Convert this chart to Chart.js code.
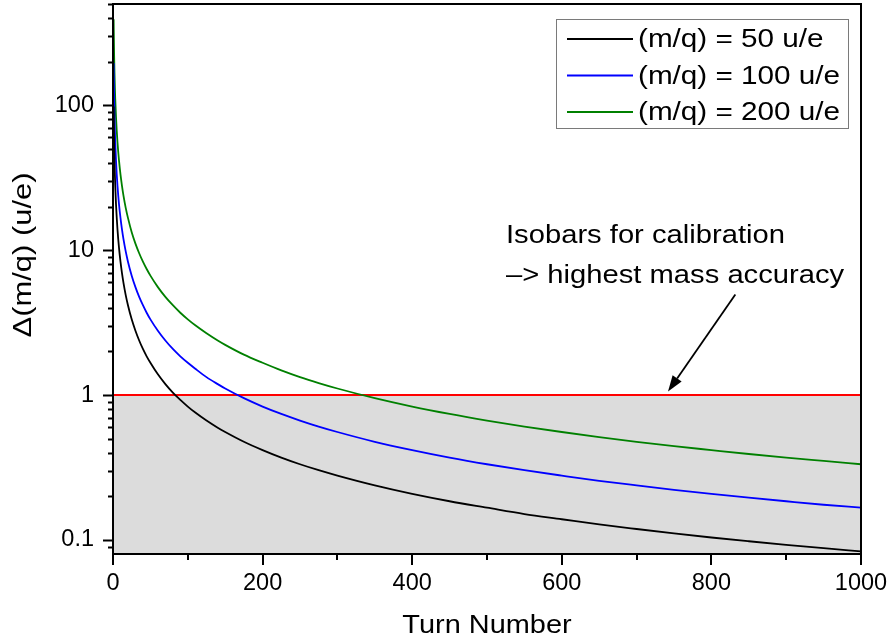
<!DOCTYPE html>
<html>
<head>
<meta charset="utf-8">
<title>Mass resolution vs. turn number</title>
<script src="https://cdn.jsdelivr.net/npm/chart.js@4.4.1/dist/chart.umd.min.js"></script>
<style>
  html, body { margin: 0; padding: 0; background: #ffffff; }
  #wrap { width: 891px; height: 643px; }
</style>
</head>
<body>
<div id="wrap"><canvas id="chart" width="891" height="643"></canvas></div>
<script>
// Turn numbers at which the resolution curves are sampled
const turnNumbers = [0.85, 1, 1.5, 2, 2.5, 3, 4, 5, 6, 7, 8, 10, 12, 14, 17, 20, 25, 30, 35, 40, 45, 50, 60, 70, 80, 90, 100, 110, 125, 140, 150, 175, 200, 225, 250, 275, 300, 350, 400, 450, 500, 550, 600, 650, 700, 750, 800, 850, 900, 950, 1000];
// Δ(m/q) in u/e for each mass-to-charge ratio
const dm50 = [98.0, 83.3, 55.5, 41.7, 33.3, 27.8, 20.8, 16.7, 13.9, 11.9, 10.4, 8.33, 6.94, 5.95, 4.90, 4.17, 3.33, 2.78, 2.38, 2.08, 1.85, 1.67, 1.39, 1.19, 1.04, 0.926, 0.833, 0.757, 0.667, 0.595, 0.556, 0.476, 0.417, 0.370, 0.333, 0.303, 0.278, 0.238, 0.208, 0.185, 0.167, 0.151, 0.139, 0.128, 0.119, 0.111, 0.104, 0.098, 0.0926, 0.0877, 0.0835];
const dm100 = [196, 167, 111, 83.3, 66.7, 55.6, 41.7, 33.3, 27.8, 23.8, 20.8, 16.7, 13.9, 11.9, 9.80, 8.33, 6.67, 5.56, 4.76, 4.17, 3.70, 3.33, 2.78, 2.38, 2.08, 1.85, 1.67, 1.52, 1.33, 1.19, 1.11, 0.952, 0.833, 0.741, 0.667, 0.606, 0.556, 0.476, 0.417, 0.370, 0.333, 0.303, 0.278, 0.256, 0.238, 0.222, 0.208, 0.196, 0.185, 0.175, 0.167];
const dm200 = [392, 333, 222, 167, 133, 111, 83.3, 66.7, 55.6, 47.6, 41.7, 33.3, 27.8, 23.8, 19.6, 16.7, 13.3, 11.1, 9.52, 8.33, 7.41, 6.67, 5.56, 4.76, 4.17, 3.70, 3.33, 3.03, 2.67, 2.38, 2.22, 1.90, 1.67, 1.48, 1.33, 1.21, 1.11, 0.952, 0.833, 0.741, 0.667, 0.606, 0.556, 0.513, 0.476, 0.444, 0.417, 0.392, 0.370, 0.351, 0.333];

const seriesLabels = ['(m/q) = 50 u/e', '(m/q) = 100 u/e', '(m/q) = 200 u/e'];
const seriesColors = ['#000000', '#0000ff', '#008000'];

// Isobar calibration threshold
const isobarLevel = [1, 1];
const isobarTurns = [0, 1000];

// Axis ticks
const xTickValues = [0, 100, 200, 300, 400, 500, 600, 700, 800, 900, 1000];
const xLabelledTicks = [0, 200, 400, 600, 800, 1000];
const yTickValues = [0.09, 0.1, 0.2, 0.3, 0.4, 0.5, 0.6, 0.7, 0.8, 0.9, 1, 2, 3, 4, 5, 6, 7, 8, 9, 10, 20, 30, 40, 50, 60, 70, 80, 90, 100, 200, 300, 400, 500];
const yLabelledTicks = [0.1, 1, 10, 100];

const xTitle = 'Turn Number';
const yTitle = 'Δ(m/q) (u/e)';
const noteLines = ['Isobars for calibration', '–> highest mass accuracy'];

const FONT = '"Liberation Sans", Arial, Helvetica, sans-serif';
Chart.defaults.font.family = FONT;
Chart.defaults.color = '#000000';

function pts(xs, ys) { return xs.map((x, i) => ({ x: x, y: ys[i] })); }

function drawText(ctx, text, x, y, size, stretch, align, angle) {
  ctx.save();
  ctx.font = size + 'px ' + FONT;
  ctx.fillStyle = '#000000';
  ctx.translate(x, y);
  if (angle) ctx.rotate(angle);
  ctx.scale(stretch, 1);
  ctx.textAlign = align;
  ctx.textBaseline = 'alphabetic';
  ctx.fillText(text, 0, 0);
  ctx.restore();
}

// Frame, tick marks, titles, legend box and the note with its arrow
const decorations = {
  id: 'decorations',
  afterDraw(chart) {
    const ctx = chart.ctx;
    const a = chart.chartArea;
    const xs = chart.scales.x, ys = chart.scales.y;

    ctx.save();
    ctx.strokeStyle = '#000000';
    ctx.lineWidth = 2;
    ctx.lineCap = 'butt';

    // tick marks on the left axis
    ctx.beginPath();
    yTickValues.forEach(v => {
      const py = Math.round(ys.getPixelForValue(v)) + 0.5;
      const len = yLabelledTicks.includes(v) ? 10 : 5;
      ctx.moveTo(a.left - len, py);
      ctx.lineTo(a.left, py);
    });
    ctx.stroke();

    // tick marks on the bottom axis
    ctx.beginPath();
    xTickValues.forEach(v => {
      const px = Math.round(xs.getPixelForValue(v));
      const len = xLabelledTicks.includes(v) ? 11 : 6;
      ctx.moveTo(px, a.bottom);
      ctx.lineTo(px, a.bottom + len);
    });
    ctx.stroke();

    // plot frame
    ctx.strokeRect(a.left, a.top, a.right - a.left, a.bottom - a.top);
    ctx.restore();

    // axis titles
    drawText(ctx, xTitle, (a.left + a.right) / 2, 633, 25.6, 1.13, 'center', 0);
    drawText(ctx, yTitle, 31, 255, 26, 1.19, 'center', -Math.PI / 2);

    // legend
    ctx.save();
    ctx.strokeStyle = '#7a7a7a';
    ctx.lineWidth = 1;
    ctx.fillStyle = '#ffffff';
    ctx.fillRect(556, 19, 292, 109);
    ctx.strokeRect(556.5, 19.5, 292, 109);
    chart.data.datasets.slice(1).forEach((ds, i) => {
      const ry = 39 + i * 36.5;
      ctx.strokeStyle = ds.borderColor;
      ctx.lineWidth = 2;
      ctx.beginPath();
      ctx.moveTo(567, ry);
      ctx.lineTo(633, ry);
      ctx.stroke();
      drawText(ctx, ds.label, 638, ry + 8, 26.5, 1.12, 'left', 0);
    });
    ctx.restore();

    // note
    drawText(ctx, noteLines[0], 506, 243, 25.6, 1.14, 'left', 0);
    drawText(ctx, noteLines[1], 506, 283, 25.6, 1.14, 'left', 0);

    // arrow pointing at the isobar threshold
    const x0 = xs.getPixelForValue(832), y0 = ys.getPixelForValue(4.95);
    const x1 = xs.getPixelForValue(742), y1 = ys.getPixelForValue(1) - 3.5;
    const ang = Math.atan2(y1 - y0, x1 - x0);
    const headLen = 16, headHalf = 5.5;
    const bx = x1 - headLen * Math.cos(ang), by = y1 - headLen * Math.sin(ang);
    ctx.save();
    ctx.strokeStyle = '#000000';
    ctx.fillStyle = '#000000';
    ctx.lineWidth = 1.8;
    ctx.beginPath();
    ctx.moveTo(x0, y0);
    ctx.lineTo(bx, by);
    ctx.stroke();
    ctx.beginPath();
    ctx.moveTo(x1, y1);
    ctx.lineTo(bx + headHalf * Math.sin(ang), by - headHalf * Math.cos(ang));
    ctx.lineTo(bx - headHalf * Math.sin(ang), by + headHalf * Math.cos(ang));
    ctx.closePath();
    ctx.fill();
    ctx.restore();
  }
};

const curve = (label, ys, color) => ({
  label: label,
  data: pts(turnNumbers, ys),
  borderColor: color,
  backgroundColor: color,
  borderWidth: 1.8,
  pointRadius: 0,
  cubicInterpolationMode: 'monotone',
  fill: false,
  order: 1
});

new Chart(document.getElementById('chart'), {
  type: 'line',
  data: {
    datasets: [
      {
        label: 'Isobar threshold',
        data: pts(isobarTurns, isobarLevel),
        borderColor: '#ff0000',
        backgroundColor: '#dcdcdc',
        borderWidth: 2,
        pointRadius: 0,
        fill: 'start',
        order: 10
      },
      curve(seriesLabels[0], dm50, seriesColors[0]),
      curve(seriesLabels[1], dm100, seriesColors[1]),
      curve(seriesLabels[2], dm200, seriesColors[2])
    ]
  },
  options: {
    responsive: false,
    animation: false,
    devicePixelRatio: 1,
    layout: { padding: { left: 0, right: 30, top: 4, bottom: 0 } },
    plugins: {
      legend: { display: false },
      tooltip: { enabled: false }
    },
    scales: {
      x: {
        type: 'linear',
        min: 0,
        max: 1000,
        afterBuildTicks: s => { s.ticks = xTickValues.map(v => ({ value: v })); },
        afterFit: s => { s.height = 89; s.paddingLeft = 0; s.paddingRight = 0; },
        grid: { display: false, drawTicks: false },
        border: { display: false },
        ticks: {
          autoSkip: false,
          maxRotation: 0,
          padding: 15,
          font: { size: 23.5 },
          color: '#000000',
          callback: v => xLabelledTicks.includes(v) ? String(v) : ''
        }
      },
      y: {
        type: 'logarithmic',
        min: 0.08,
        max: 500,
        afterBuildTicks: s => { s.ticks = yTickValues.map(v => ({ value: v })); },
        afterFit: s => { s.width = 113; s.paddingTop = 0; s.paddingBottom = 0; },
        grid: { display: false, drawTicks: false },
        border: { display: false },
        ticks: {
          autoSkip: false,
          padding: 19,
          font: { size: 23.5 },
          color: '#000000',
          callback: v => yLabelledTicks.includes(v) ? String(v) : ''
        }
      }
    }
  },
  plugins: [decorations]
});
</script>
</body>
</html>
